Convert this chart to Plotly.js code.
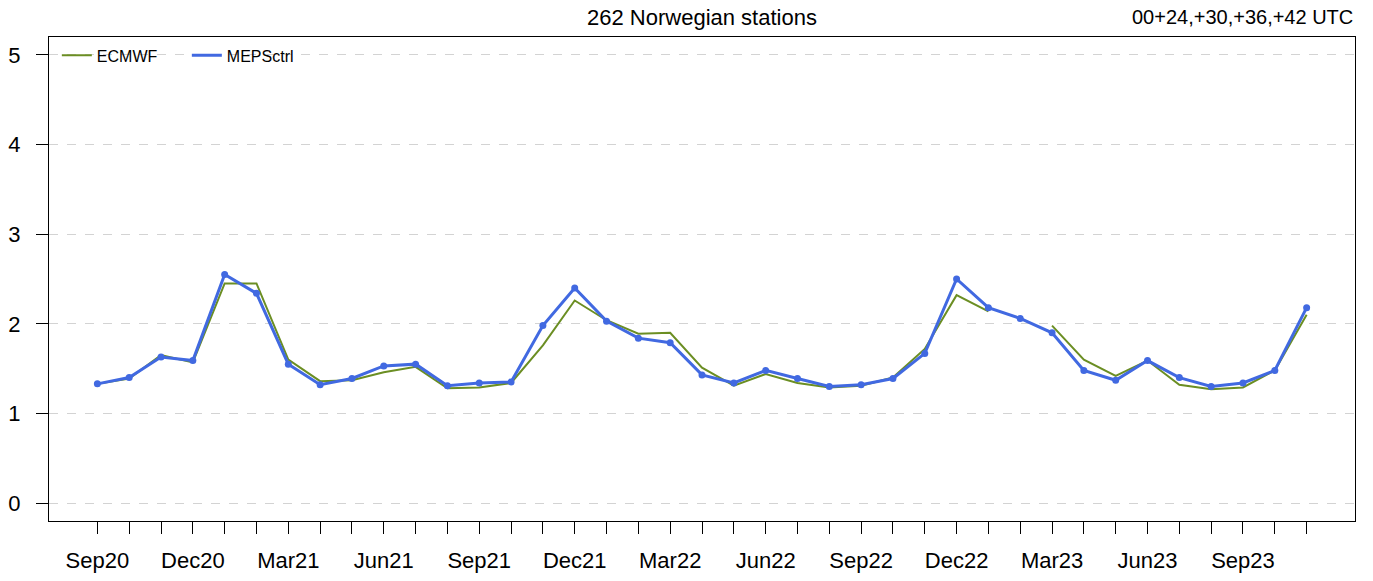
<!DOCTYPE html>
<html>
<head>
<meta charset="utf-8">
<script src="https://cdn.plot.ly/plotly-3.0.1.min.js"></script>
<style>html,body{margin:0;padding:0;background:#fff;}#chart{width:1373px;height:581px;}</style>
</head>
<body>
<div id="chart"></div>
<script>
var months = ["Sep20","Oct20","Nov20","Dec20","Jan21","Feb21","Mar21","Apr21","May21","Jun21","Jul21","Aug21",
  "Sep21","Oct21","Nov21","Dec21","Jan22","Feb22","Mar22","Apr22","May22","Jun22","Jul22","Aug22",
  "Sep22","Oct22","Nov22","Dec22","Jan23","Feb23","Mar23","Apr23","May23","Jun23","Jul23","Aug23",
  "Sep23","Oct23","Nov23"];
var labelledMonths = ["Sep20","Dec20","Mar21","Jun21","Sep21","Dec21","Mar22","Jun22","Sep22","Dec22","Mar23","Jun23","Sep23"];
var ecmwf = [1.33,1.39,1.65,1.57,2.45,2.45,1.60,1.36,1.37,1.46,1.52,1.28,1.29,1.34,1.76,2.26,2.04,1.89,1.90,1.51,
  1.31,1.44,1.34,1.29,1.31,1.40,1.72,2.32,2.14,null,1.98,1.60,1.42,1.59,1.32,1.27,1.29,1.48,2.10];
var mepsctrl = [1.33,1.40,1.63,1.59,2.55,2.34,1.55,1.32,1.39,1.53,1.55,1.31,1.34,1.35,1.98,2.40,2.03,1.84,1.79,1.43,
  1.34,1.48,1.39,1.30,1.32,1.39,1.67,2.50,2.18,2.06,1.90,1.48,1.37,1.59,1.40,1.30,1.34,1.48,2.18];
var yTicks = [0,1,2,3,4,5];
var title = "262 Norwegian stations";
var subtitle = "00+24,+30,+36,+42 UTC";

var tickText = months.map(function(m){ return labelledMonths.indexOf(m) >= 0 ? m : ""; });
var font = "Liberation Sans, Arial, sans-serif";

var traces = [
  {x: months, y: ecmwf, name: "ECMWF", type: "scatter", mode: "lines", connectgaps: false,
   line: {color: "#6B8E23", width: 2}},
  {x: months, y: mepsctrl, name: "MEPSctrl", type: "scatter", mode: "lines",
   line: {color: "#4169E1", width: 3}},
  {x: months, y: mepsctrl, name: "MEPSctrl", type: "scatter", mode: "markers", showlegend: false,
   marker: {color: "#4169E1", size: 7}}
];

var layout = {
  width: 1373, height: 581,
  margin: {l: 49, r: 18, t: 37, b: 60},
  paper_bgcolor: "#fff", plot_bgcolor: "#fff",
  font: {family: font, size: 22, color: "#000"},
  showlegend: true,
  legend: {orientation: "h", x: 0.006, y: 0.997, xanchor: "left", yanchor: "top",
           font: {size: 16, family: font}, bgcolor: "rgba(0,0,0,0)", itemwidth: 30,
           entrywidth: 85, entrywidthmode: "pixels", traceorder: "normal"},
  xaxis: {type: "category", range: [-1.52, 39.52], tickmode: "array", tickvals: months, ticktext: tickText,
          ticks: "outside", ticklen: 12, tickwidth: 1, tickcolor: "#000", ticklabelstandoff: 8,
          showgrid: false, zeroline: false, showline: true, linecolor: "#000", linewidth: 1, mirror: true,
          tickfont: {size: 22, family: font}},
  yaxis: {range: [-0.2, 5.2], tickmode: "array", tickvals: yTicks, ticktext: yTicks.map(String),
          ticks: "outside", ticklen: 12, tickwidth: 1, tickcolor: "#000", ticklabelstandoff: 11,
          showgrid: true, gridcolor: "#d3d3d3", griddash: "dash", gridwidth: 1,
          zeroline: false, showline: true, linecolor: "#000", linewidth: 1, mirror: true,
          tickfont: {size: 22, family: font}},
  annotations: [
    {text: title, xref: "paper", yref: "paper", x: 0.5, y: 1, yshift: 20, xanchor: "center", yanchor: "middle",
     showarrow: false, font: {size: 22, family: font}},
    {text: subtitle, xref: "paper", yref: "paper", x: 1, y: 1, yshift: 20, xanchor: "right", yanchor: "middle",
     showarrow: false, font: {size: 20, family: font}}
  ]
};

Plotly.newPlot("chart", traces, layout, {displayModeBar: false, staticPlot: true});
</script>
</body>
</html>
